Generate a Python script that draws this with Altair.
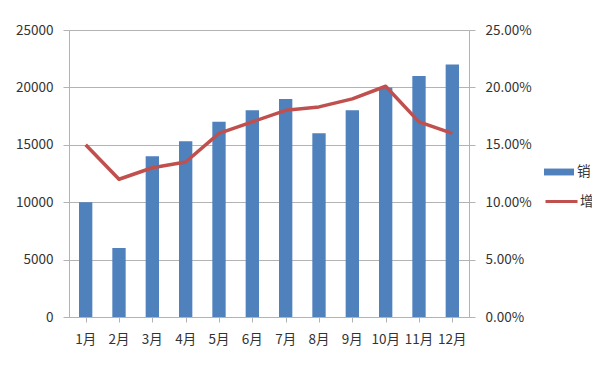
import altair as alt
import pandas as pd

months = ["1月", "2月", "3月", "4月", "5月", "6月", "7月", "8月", "9月", "10月", "11月", "12月"]
sales = [10000, 6000, 14000, 15300, 17000, 18000, 19000, 16000, 18000, 20000, 21000, 22000]
growth = [0.150, 0.120, 0.130, 0.135, 0.160, 0.170, 0.180, 0.183, 0.190, 0.201, 0.170, 0.160]

df = pd.DataFrame({"月份": months, "销售额": sales, "增长率": growth})

FONT = "Noto Sans CJK SC"
TXT = "#333333"
GRID = "#b3b3b3"
FS = 13.5

base = alt.Chart(df)

bars = base.mark_bar(color="#4f81bd").transform_calculate(s1="'销售额'").encode(
    x=alt.X("月份:N", sort=months,
            scale=alt.Scale(paddingInner=0.6, paddingOuter=0.3),
            axis=alt.Axis(title=None, labelAngle=0, ticks=False, domain=True,
                          domainColor=GRID, labelPadding=15, labelFontSize=FS,
                          labelColor=TXT, labelFont=FONT)),
    y=alt.Y("销售额:Q", scale=alt.Scale(domain=[0, 25000], nice=False),
            axis=alt.Axis(title=None, values=[0, 5000, 10000, 15000, 20000, 25000],
                          format="d", grid=True, gridColor=GRID, domainColor=GRID,
                          tickColor=GRID, tickSize=6, labelPadding=10, labelFontSize=FS,
                          labelColor=TXT, labelFont=FONT)),
    color=alt.Color("s1:N", scale=alt.Scale(domain=["销售额"], range=["#4f81bd"]),
                    legend=alt.Legend(title=None, orient="none", legendX=475, legendY=127,
                                      symbolType="M-1,-0.23H1V0.23H-1Z", symbolSize=900,
                                      symbolStrokeWidth=0, labelOffset=3, labelFontSize=FS,
                                      labelExpr="substring(datum.label, 0, 1)",
                                      labelColor=TXT, labelFont=FONT)),
)

line = base.mark_line(strokeWidth=3.5, strokeJoin="round").transform_calculate(s2="'增长率'").encode(
    x=alt.X("月份:N", sort=months,
            scale=alt.Scale(paddingInner=0, paddingOuter=0),
            axis=alt.Axis(title=None, labels=False, ticks=True, tickSize=5,
                          tickColor=GRID, domain=False, bandPosition=0, orient="bottom")),
    y=alt.Y("增长率:Q", scale=alt.Scale(domain=[0, 0.25], nice=False),
            axis=alt.Axis(title=None, orient="right", values=[0, 0.05, 0.10, 0.15, 0.20, 0.25],
                          format=".2%", grid=False, domainColor=GRID, tickColor=GRID,
                          tickSize=6, labelPadding=10, labelFontSize=FS,
                          labelColor=TXT, labelFont=FONT)),
    stroke=alt.Stroke("s2:N", scale=alt.Scale(domain=["增长率"], range=["#c0504d"]),
                      legend=alt.Legend(title=None, orient="none", legendX=475, legendY=154,
                                        symbolType="stroke", symbolSize=1024,
                                        symbolStrokeWidth=3, labelOffset=1, labelFontSize=FS,
                                        labelExpr="substring(datum.label, 0, 1)",
                                        labelColor=TXT, labelFont=FONT)),
)

chart = alt.layer(bars, line).resolve_scale(
    y="independent", x="independent"
).resolve_axis(
    y="independent", x="independent"
).properties(
    width=400, height=287,
    autosize=alt.AutoSizeParams(type="none"),
    padding={"left": 61, "top": 22, "right": 123, "bottom": 61},
    background="white",
).configure_view(stroke=None)

chart.save("out.html", embed_options={"renderer": "svg", "actions": False})
